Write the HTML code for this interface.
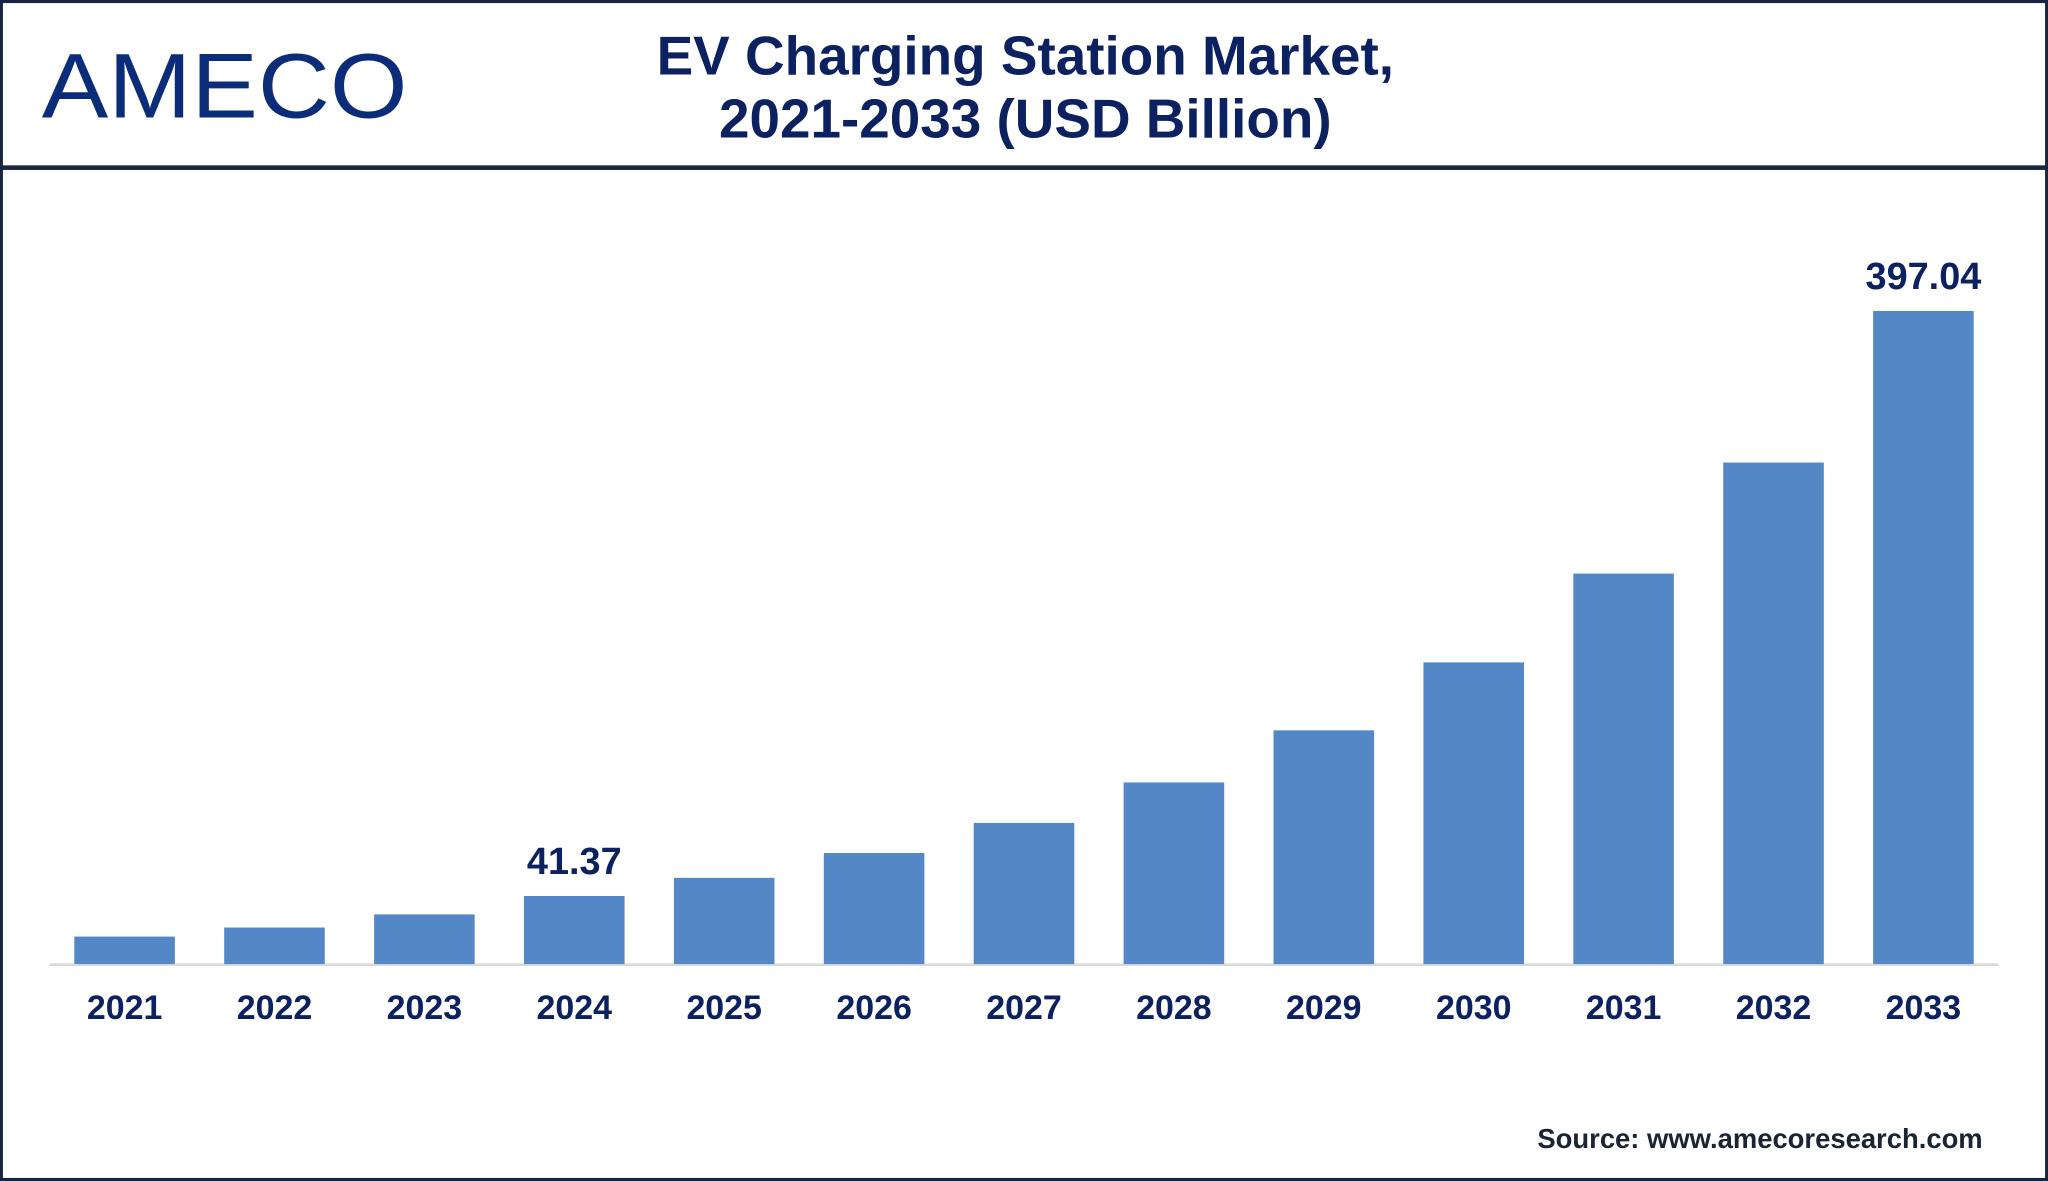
<!DOCTYPE html>
<html><head><meta charset="utf-8"><style>
html,body{margin:0;padding:0;background:#fff}
svg{display:block}
text{font-family:"Liberation Sans",Arial,sans-serif;font-weight:bold}
</style></head><body>
<svg id="chart" width="2048" height="1181" viewBox="0 0 1568 904" xmlns="http://www.w3.org/2000/svg">
<rect x="1" y="1" width="1566" height="902" fill="#fff" stroke="#16263f" stroke-width="2.5"/>
<rect x="0" y="126.5" width="1568" height="3.5" fill="#16263f"/>
<text x="32" y="90" font-size="70" fill="#0b2d79" textLength="280" lengthAdjust="spacingAndGlyphs" style="font-weight:normal">AMECO</text>
<text x="785" y="57" font-size="42" fill="#0c2160" text-anchor="middle">EV Charging Station Market,</text>
<text x="785" y="105" font-size="42" fill="#0c2160" text-anchor="middle">2021-2033 (USD Billion)</text>
<line x1="38" y1="738.5" x2="1530" y2="738.5" stroke="#d9d9d9" stroke-width="2"/>
<g id="bars"></g>
<text x="1518" y="879" font-size="21" fill="#1b2433" text-anchor="end">Source: www.amecoresearch.com</text>
</svg>
<script>
const categories=["2021","2022","2023","2024","2025","2026","2027","2028","2029","2030","2031","2032","2033"];
const values=[16.7,22.2,30.2,41.37,52.4,67.5,85.8,110.4,142.1,183.4,237.4,304.9,397.04];
const valueLabels=["","","","41.37","","","","","","","","","397.04"];
const NS="http://www.w3.org/2000/svg";
const gBars=document.getElementById('bars');
const plotX0=38,plotX1=1530,plotBase=738,plotTop=238,maxV=397.04;
const stepW=(plotX1-plotX0)/categories.length,bw=77;
function xc(i){return plotX0+stepW*(i+0.5);}
function yv(v){return plotBase-(v/maxV)*(plotBase-plotTop);}
categories.forEach((c,i)=>{
  const r=document.createElementNS(NS,'rect');
  r.setAttribute('x',xc(i)-bw/2);r.setAttribute('y',yv(values[i]));
  r.setAttribute('width',bw);r.setAttribute('height',plotBase-yv(values[i]));
  r.setAttribute('fill','#5487c6');
  
  
  gBars.appendChild(r);
  const t=document.createElementNS(NS,'text');
  t.setAttribute('x',xc(i));t.setAttribute('y',780);
  t.setAttribute('font-size','26');t.setAttribute('fill','#0c2160');t.setAttribute('text-anchor','middle');
  t.textContent=c;
  
  
  gBars.appendChild(t);
  if(valueLabels[i]){
    const v=document.createElementNS(NS,'text');
    v.setAttribute('x',xc(i));v.setAttribute('y',yv(values[i])-17);
    v.setAttribute('font-size','29');v.setAttribute('fill','#0c2160');v.setAttribute('text-anchor','middle');
    v.textContent=valueLabels[i];
    
    
    gBars.appendChild(v);
  }
});
</script>
</body></html>
